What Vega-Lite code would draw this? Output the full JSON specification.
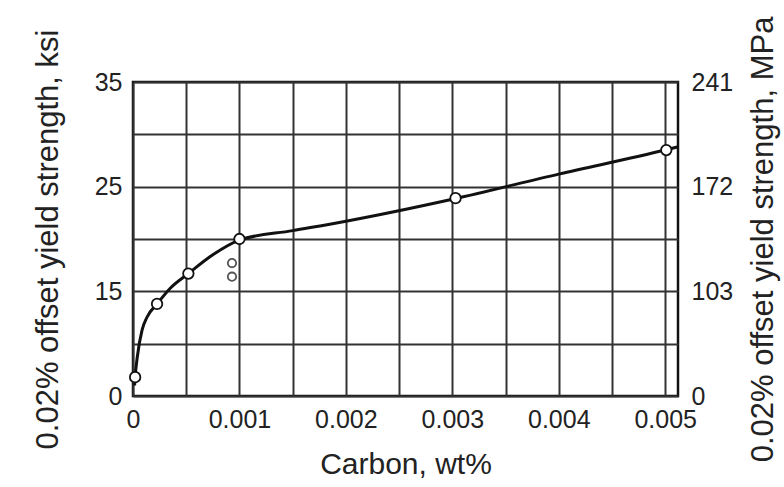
{
  "$schema": "https://vega.github.io/schema/vega-lite/v6.json",
  "width": 545,
  "height": 314,
  "autosize": {"type": "none"},
  "padding": {"left": 133, "top": 82, "right": 106, "bottom": 91},
  "background": "white",
  "config": {
    "font": "Liberation Sans",
    "view": {"stroke": "#111", "strokeWidth": 2.5},
    "axis": {
      "labelFont": "Liberation Sans",
      "titleFont": "Liberation Sans",
      "labelColor": "#222",
      "titleColor": "#222",
      "titleFontWeight": "normal",
      "ticks": false,
      "domain": false
    }
  },
  "datasets": {
    "curve": [
      {"carbon": 0.000015, "ksi": 6.0},
      {"carbon": 0.00002, "ksi": 6.8},
      {"carbon": 0.00004, "ksi": 8.7},
      {"carbon": 0.000085, "ksi": 11.3},
      {"carbon": 0.00013, "ksi": 12.5},
      {"carbon": 0.000226, "ksi": 13.8},
      {"carbon": 0.00035, "ksi": 15.3},
      {"carbon": 0.00052, "ksi": 16.7},
      {"carbon": 0.00075, "ksi": 18.5},
      {"carbon": 0.001, "ksi": 19.9},
      {"carbon": 0.0015, "ksi": 20.8},
      {"carbon": 0.002, "ksi": 21.7},
      {"carbon": 0.003, "ksi": 23.8},
      {"carbon": 0.004, "ksi": 26.2},
      {"carbon": 0.005, "ksi": 28.5},
      {"carbon": 0.00512, "ksi": 28.8}
    ],
    "measured": [
      {"carbon": 0.00002, "ksi": 6.8, "kind": "main"},
      {"carbon": 0.000226, "ksi": 13.8, "kind": "main"},
      {"carbon": 0.00052, "ksi": 16.7, "kind": "main"},
      {"carbon": 0.00093, "ksi": 17.7, "kind": "aside"},
      {"carbon": 0.00093, "ksi": 16.4, "kind": "aside"},
      {"carbon": 0.001, "ksi": 20.0, "kind": "main"},
      {"carbon": 0.00303, "ksi": 23.9, "kind": "main"},
      {"carbon": 0.00501, "ksi": 28.5, "kind": "main"}
    ]
  },
  "layer": [
    {
      "data": {"name": "curve"},
      "mark": {"type": "line", "interpolate": "monotone", "color": "#111", "strokeWidth": 3, "clip": true},
      "encoding": {
        "x": {
          "field": "carbon", "type": "quantitative",
          "scale": {"domain": [0, 0.00512], "nice": false, "zero": false},
          "axis": {
            "title": "Carbon, wt%",
            "values": [0, 0.0005, 0.001, 0.0015, 0.002, 0.0025, 0.003, 0.0035, 0.004, 0.0045, 0.005],
            "labelExpr": "round(datum.value*2000)%2==0 ? (datum.value==0 ? '0' : format(datum.value, '.3f')) : ''",
            "labelFlush": false,
            "labelFontSize": 25,
            "labelPadding": 11,
            "titleFontSize": 30,
            "titlePadding": 17,
            "grid": true,
            "gridColor": "#333",
            "gridWidth": 2,
            "gridOpacity": 1
          }
        },
        "y": {
          "field": "ksi", "type": "quantitative",
          "scale": {"domain": [5, 35], "nice": false, "zero": false},
          "axis": {
            "title": "0.02% offset yield strength, ksi",
            "values": [5, 10, 15, 20, 25, 30, 35],
            "labelExpr": "datum.value==5 ? '0' : (datum.value%10==5 ? datum.label : '')",
            "labelFontSize": 25,
            "labelPadding": 11,
            "titleFontSize": 31,
            "titlePadding": 30,
            "grid": true,
            "gridColor": "#333",
            "gridWidth": 2,
            "gridOpacity": 1
          }
        }
      }
    },
    {
      "data": {"name": "measured"},
      "mark": {"type": "point", "shape": "circle", "filled": true, "fill": "white", "stroke": "#111", "strokeWidth": 1.8, "opacity": 1},
      "encoding": {
        "x": {"field": "carbon", "type": "quantitative", "scale": {"domain": [0, 0.00512], "nice": false, "zero": false}},
        "y": {
          "field": "ksi", "type": "quantitative",
          "scale": {"domain": [5, 35], "nice": false, "zero": false},
          "axis": {
            "orient": "right",
            "title": "0.02% offset yield strength, MPa",
            "titleAngle": 270,
            "titleBaseline": "top",
            "values": [5, 15, 25, 35],
            "labelExpr": "datum.value==35 ? '241' : datum.value==25 ? '172' : datum.value==15 ? '103' : '0'",
            "labelFontSize": 25,
            "labelPadding": 13,
            "titleFontSize": 31,
            "titlePadding": 16,
            "grid": false
          }
        },
        "size": {
          "field": "kind", "type": "nominal",
          "scale": {"domain": ["main", "aside"], "range": [110, 70]},
          "legend": null
        },
        "stroke": {
          "field": "kind", "type": "nominal",
          "scale": {"domain": ["main", "aside"], "range": ["#111", "#555"]},
          "legend": null
        }
      }
    }
  ],
  "resolve": {"scale": {"y": "independent"}}
}
